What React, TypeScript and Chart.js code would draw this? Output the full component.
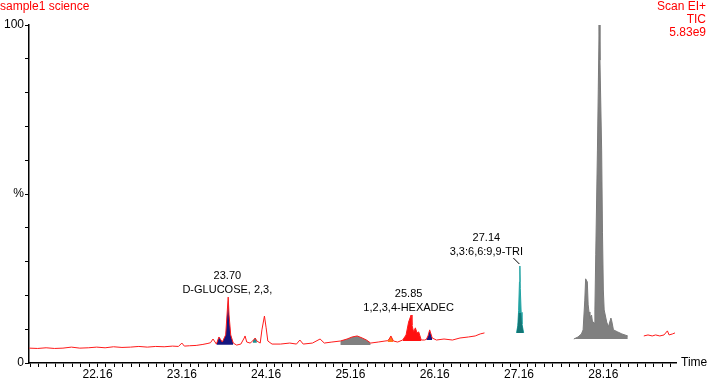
import React, { useEffect, useRef } from "react";
import { Chart, registerables } from "chart.js";

Chart.register(...registerables);

// ---- data ----
const traceTimesA = [
  21.35, 21.45, 21.55, 21.65, 21.75, 21.85, 21.95, 22.05, 22.15, 22.25, 22.35, 22.45, 22.55, 22.65,
  22.75, 22.85, 22.95, 23.05, 23.12, 23.16, 23.19, 23.25, 23.33, 23.41, 23.47, 23.5, 23.53, 23.57,
  23.6, 23.64, 23.68, 23.7, 23.71, 23.72, 23.74, 23.77, 23.81, 23.86, 23.9, 23.91, 23.93, 23.97,
  24.0, 24.03, 24.05, 24.09, 24.11, 24.14, 24.16, 24.18, 24.23, 24.33, 24.44, 24.52, 24.56, 24.6,
  24.71, 24.8, 24.85, 24.94, 25.04, 25.12, 25.18, 25.24, 25.3, 25.35, 25.4, 25.49, 25.57, 25.6,
  25.62, 25.64, 25.67, 25.72, 25.78, 25.82, 25.85, 25.88, 25.89, 25.91, 25.93, 25.95, 25.97, 26.0,
  26.04, 26.06, 26.08, 26.1, 26.13, 26.18, 26.27, 26.37, 26.46, 26.56, 26.64, 26.7, 26.75,
];
const traceValuesA = [
  4.4, 4.3, 4.5, 4.3, 4.4, 4.7, 4.4, 4.5, 4.7, 4.5, 4.8, 4.6, 4.7, 4.9,
  4.7, 4.9, 4.8, 5.0, 4.9, 5.9, 5.0, 5.1, 5.2, 5.5, 5.8, 6.0, 7.1, 5.6,
  7.7, 6.2, 8.3, 15.7, 19.5, 14.2, 8.3, 5.9, 5.3, 5.6, 7.4, 8.0, 6.2, 5.9,
  6.5, 7.4, 6.5, 5.9, 9.8, 13.9, 10.4, 6.5, 5.6, 5.6, 5.9, 5.6, 6.8, 5.6,
  5.9, 7.1, 5.9, 6.2, 6.5, 7.1, 7.7, 8.0, 7.4, 6.8, 5.9, 6.2, 6.5, 6.6,
  7.1, 8.0, 6.5, 6.2, 6.8, 8.3, 12.1, 14.2, 11.2, 9.2, 10.4, 8.9, 9.2, 6.8,
  6.8, 7.0, 8.0, 9.8, 7.4, 6.8, 7.1, 6.8, 7.4, 7.7, 8.0, 8.6, 8.9,
];
const traceTimesB = [28.64, 28.69, 28.74, 28.78, 28.83, 28.88, 28.92, 28.94, 28.98, 29.01];
const traceValuesB = [8.0, 8.3, 8.0, 8.3, 8.0, 8.3, 9.5, 8.3, 8.6, 8.9];

const tealTimes = [27.13, 27.145, 27.155, 27.165, 27.17, 27.175, 27.185, 27.195, 27.215];
const tealValues = [8.9, 11.0, 15.5, 24.0, 28.7, 22.0, 15.0, 11.5, 8.9];

const grayTimes = [
  27.81, 27.86, 27.9, 27.92, 27.94, 27.95, 27.97, 27.98, 27.99, 28.0, 28.02, 28.03, 28.05, 28.06,
  28.07, 28.09, 28.1, 28.11, 28.12, 28.14, 28.15, 28.16, 28.17, 28.2, 28.22, 28.25, 28.26, 28.28,
  28.33, 28.38, 28.45,
];
const grayValues = [
  7.1, 7.7, 8.6, 9.8, 18.6, 24.9, 24.0, 17.2, 15.1, 13.3, 14.2, 12.4, 11.8, 15.7,
  32.0, 63.0, 80.8, 100.0, 89.6, 63.0, 38.5, 21.6, 15.7, 12.1, 10.7, 13.3, 12.4, 9.8,
  9.2, 8.6, 8.0,
];

// integrated peaks on the main trace
const peakStarts = [23.56, 24.0, 25.04, 25.6, 25.78, 26.06];
const peakEnds = [23.78, 24.06, 25.41, 25.68, 26.01, 26.14];
const peakBases = [5.4, 6.0, 5.3, 6.2, 6.5, 6.8];

const xTickLabels = ["22.16", "23.16", "24.16", "25.16", "26.16", "27.16", "28.16"];
const yTickValues = [0, 50, 100];
const yTickLabels = ["0", "%", "100"];

const annotTimes = [23.7, 25.85, 27.14];
const annotRTs = ["23.70", "25.85", "27.14"];
const annotNames = ["D-GLUCOSE, 2,3,", "1,2,3,4-HEXADEC", "3,3:6,6:9,9-TRI"];

const titleLeft = "sample1 science";
const titleRight = ["Scan EI+", "TIC", "5.83e9"];
const xAxisTitle = "Time";

// ---- styles ----
const peakColors = ["#16167f", "#1e8f8f", "#808080", "#ff7a1a", "#ff1010", "#16167f"];
const annotDx = [0, 0, -31];
const annotDy = [0, 0, -7];
const FONT = "'Liberation Sans', Arial, sans-serif";

const toPts = (ts: number[], vs: number[]) => ts.map((t, i) => ({ x: t, y: vs[i] }));

export default function App() {
  const ref = useRef<HTMLCanvasElement | null>(null);

  useEffect(() => {
    if (!ref.current) return;
    const ptsA = toPts(traceTimesA, traceValuesA);
    const ptsB = toPts(traceTimesB, traceValuesB);
    const tealPts = toPts(tealTimes, tealValues);
    const tealLow = tealTimes.map((t, i) => ({ x: t, y: Math.min(tealValues[i], 14.8) }));
    const grayPts = toPts(grayTimes, grayValues);

    const fillSets = peakStarts.map((s, i) => ({
      data: ptsA.filter((p) => p.x >= s - 1e-6 && p.x <= peakEnds[i] + 1e-6),
      borderColor: "rgba(0,0,0,0)",
      borderWidth: 0,
      backgroundColor: peakColors[i],
      fill: { value: peakBases[i] },
      pointRadius: 0,
    }));

    const majors = xTickLabels.map(Number);
    const allPeakPts = [...ptsA, ...tealPts, ...grayPts];

    const overlay = {
      id: "overlay",
      afterDraw(chart: any) {
        const ctx = chart.ctx;
        const xs = chart.scales.x;
        const ys = chart.scales.y;
        const area = chart.chartArea;
        ctx.save();
        ctx.fillStyle = "#ff0000";
        ctx.font = `12px ${FONT}`;
        ctx.textBaseline = "alphabetic";
        ctx.textAlign = "left";
        ctx.fillText(titleLeft, 0, 10);
        ctx.textAlign = "right";
        titleRight.forEach((t, i) => ctx.fillText(t, 706, 10 + i * 13));

        ctx.fillStyle = "#000";
        ctx.textAlign = "left";
        ctx.textBaseline = "middle";
        ctx.fillText(xAxisTitle, area.right + 5, area.bottom);

        ctx.font = `11px ${FONT}`;
        ctx.textAlign = "center";
        annotTimes.forEach((t, i) => {
          let top = 0;
          allPeakPts.forEach((p) => {
            if (Math.abs(p.x - t) <= 0.045 && p.y > top) top = p.y;
          });
          const px = xs.getPixelForValue(t);
          const py = ys.getPixelForValue(top);
          const cx = px + annotDx[i];
          const l2 = py - 7 + annotDy[i];
          ctx.fillText(annotNames[i], cx, l2);
          ctx.fillText(annotRTs[i], cx, l2 - 14);
          if (annotDx[i] !== 0) {
            ctx.strokeStyle = "#000";
            ctx.lineWidth = 1;
            ctx.beginPath();
            ctx.moveTo(px - 4, py - 8);
            ctx.lineTo(px + 2, py - 2);
            ctx.stroke();
          }
        });
        ctx.restore();
      },
    };

    const chart = new Chart(ref.current, {
      type: "line",
      data: {
        datasets: [
          { data: ptsA, borderColor: "#ff1a1a", borderWidth: 1, pointRadius: 0, fill: false },
          { data: ptsB, borderColor: "#ff1a1a", borderWidth: 1, pointRadius: 0, fill: false },
          ...fillSets,
          {
            data: tealLow,
            borderColor: "rgba(0,0,0,0)",
            borderWidth: 0,
            backgroundColor: "#137676",
            fill: { value: tealValues[0] },
            pointRadius: 0,
          },
          {
            data: tealPts,
            borderColor: "#22a3a3",
            borderWidth: 1,
            backgroundColor: "#22a3a3",
            fill: { value: tealValues[0] },
            pointRadius: 0,
          },
          {
            data: grayPts,
            borderColor: "#7a7a7a",
            borderWidth: 1,
            backgroundColor: "#808080",
            fill: { value: grayValues[0] },
            pointRadius: 0,
          },
        ] as any,
      },
      options: {
        responsive: false,
        animation: false,
        devicePixelRatio: 1,
        layout: { padding: { top: 25, right: 32, left: 0, bottom: 0 } },
        plugins: { legend: { display: false }, tooltip: { enabled: false } },
        elements: { line: { tension: 0 }, point: { radius: 0 } },
        scales: {
          x: {
            type: "linear",
            min: 21.347,
            max: 29.022,
            afterFit: (s: any) => {
              s.height = 19;
            },
            afterBuildTicks: (s: any) => {
              const ticks: { value: number }[] = [];
              for (let k = -10; k <= 80; k++) {
                const v = Math.round((majors[0] + k * 0.1) * 100) / 100;
                if (v >= s.min && v <= s.max) ticks.push({ value: v });
              }
              s.ticks = ticks;
            },
            grid: {
              display: true,
              drawOnChartArea: false,
              drawTicks: true,
              tickLength: 4,
              tickColor: "#000",
              tickWidth: 1,
            },
            border: { display: true, color: "#000", width: 1.5 },
            ticks: {
              autoSkip: false,
              maxRotation: 0,
              padding: 0,
              color: "#000",
              font: { family: FONT, size: 12 },
              callback: (v: any) => {
                const idx = majors.findIndex((m) => Math.abs(m - Number(v)) < 0.001);
                return idx >= 0 ? xTickLabels[idx] : "";
              },
            },
          },
          y: {
            type: "linear",
            min: 0,
            max: 100,
            afterFit: (s: any) => {
              s.width = 29;
            },
            grid: {
              display: true,
              drawOnChartArea: false,
              drawTicks: true,
              tickLength: 4,
              tickColor: "#000",
              tickWidth: 1,
            },
            border: { display: true, color: "#000", width: 1.5 },
            ticks: {
              stepSize: 10,
              padding: 1,
              color: "#000",
              font: { family: FONT, size: 12 },
              callback: (v: any) => {
                const idx = yTickValues.indexOf(Number(v));
                return idx >= 0 ? yTickLabels[idx] : "";
              },
            },
          },
        },
      },
      plugins: [overlay],
    });
    return () => chart.destroy();
  }, []);

  return (
    <div style={{ position: "absolute", left: 0, top: 0, width: 708, height: 382, background: "#fff" }}>
      <canvas ref={ref} width={708} height={382} style={{ display: "block", width: 708, height: 382 }} />
    </div>
  );
}
